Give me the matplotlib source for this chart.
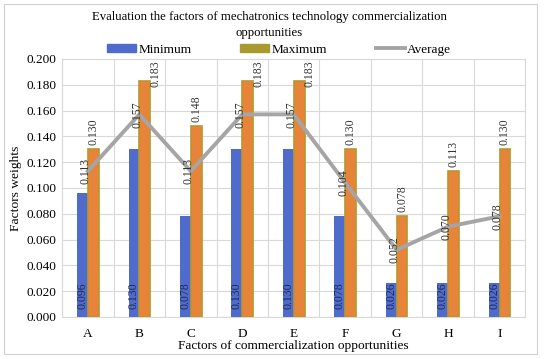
import matplotlib.pyplot as plt
import numpy as np
from matplotlib.patches import Patch, Rectangle
from matplotlib.lines import Line2D

# données
categories = ['A', 'B', 'C', 'D', 'E', 'F', 'G', 'H', 'I']
minimum = [0.096, 0.130, 0.078, 0.130, 0.130, 0.078, 0.026, 0.026, 0.026]
maximum = [0.130, 0.183, 0.148, 0.183, 0.183, 0.130, 0.078, 0.113, 0.130]
average = [0.113, 0.157, 0.113, 0.157, 0.157, 0.104, 0.052, 0.070, 0.078]
yticks = [0.000, 0.020, 0.040, 0.060, 0.080, 0.100, 0.120, 0.140, 0.160, 0.180, 0.200]

plt.rcParams['font.family'] = ['Liberation Serif', 'DejaVu Serif']

fig = plt.figure(figsize=(5.5, 3.59), dpi=100)
ax = fig.add_axes([0.113, 0.117, 0.842, 0.719])

x = np.arange(len(categories))
w = 0.21

ax.bar(x - w / 2, minimum, w, color='#4F6BCB', zorder=3)
ax.bar(x + w / 2, maximum, w, color='#E8833A', edgecolor='#B8962E', linewidth=1.2, zorder=3)
ax.plot(x, average, color='#A5A5A5', linewidth=2.8, zorder=4)

for i in range(len(categories)):
    # étiquettes minimum (dans la barre)
    ax.text(x[i] - w / 2, 0.006, '%.3f' % minimum[i], rotation=90, ha='center', va='bottom',
            fontsize=8.5, color='#1F2A55', zorder=5)
    # étiquettes maximum
    if maximum[i] > 0.17:
        ax.text(x[i] + w + 0.1, 0.199, '%.3f' % maximum[i], rotation=90, ha='center', va='top',
                fontsize=8.5, color='#333333', zorder=5)
    else:
        ax.text(x[i] + w / 2, maximum[i] + 0.003, '%.3f' % maximum[i], rotation=90, ha='center',
                va='bottom', fontsize=8.5, color='#333333', zorder=5)
    # étiquettes moyenne
    ax.text(x[i] - 0.04, average[i], '%.3f' % average[i], rotation=90, ha='center', va='center',
            fontsize=8.5, color='#333333', zorder=5)

ax.set_xlim(-0.5, len(categories) - 0.5)
ax.set_ylim(0, 0.2)
ax.set_yticks(yticks)
ax.set_yticklabels(['%.3f' % v for v in yticks], fontsize=9.5)
ax.set_xticks(x)
ax.set_xticklabels(categories, fontsize=9.5)
ax.tick_params(axis='y', length=0, pad=4)
ax.tick_params(axis='x', length=0, pad=8)
ax.set_xticks(np.arange(-0.5, len(categories), 1), minor=True)
ax.tick_params(which='minor', length=0)
ax.grid(axis='y', color='#D9D9D9', linewidth=0.8, zorder=0)
ax.grid(axis='x', which='minor', color='#D9D9D9', linewidth=0.8, zorder=0)
for s in ax.spines.values():
    s.set_color('#D9D9D9')

ax.set_xlabel('Factors of commercialization opportunities', fontsize=9.6, labelpad=0)
ax.set_ylabel('Factors weights', fontsize=9.7, labelpad=3)

fig.text(0.49, 0.93, 'Evaluation the factors of mechatronics technology commercialization\nopportunities',
         ha='center', va='center', fontsize=9.2, linespacing=1.45)

handles = [Patch(color='#4F6BCB'), Patch(color='#A89A2E'), Line2D([], [], color='#A5A5A5', linewidth=2.8)]
fig.legend(handles, ['Minimum', 'Maximum', 'Average'], loc='center', bbox_to_anchor=(0.508, 0.862),
           ncol=3, frameon=False, fontsize=9.5, columnspacing=3.65, handlelength=2.2, handletextpad=0.2,
           handleheight=0.6)

fig.patches.append(Rectangle((0.008, 0.014), 0.968, 0.975, transform=fig.transFigure,
                             fill=False, edgecolor='#D0D0D0', linewidth=0.8))

fig.savefig('out.png', dpi=100)
